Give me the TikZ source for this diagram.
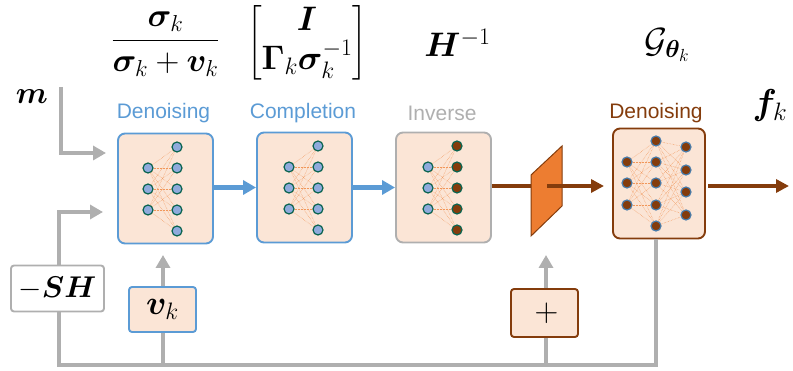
\documentclass[tikz,border=0pt]{standalone}
\usepackage{fix-cm}
\usepackage{amsmath,bm}
\usepackage{fontspec}
\setsansfont{Liberation Sans}
\usetikzlibrary{arrows.meta}
\definecolor{myblue}{RGB}{91,155,213}
\definecolor{mygray}{RGB}{175,175,175}
\definecolor{mybrown}{RGB}{132,60,12}
\definecolor{myfill}{RGB}{251,229,214}
\definecolor{myorange}{RGB}{237,125,49}
\definecolor{mygreen}{RGB}{10,100,80}
\definecolor{mynode}{RGB}{143,170,220}
\tikzset{
  block/.style={rectangle, rounded corners=7pt, minimum width=95pt, minimum height=110pt, line width=1.9pt, fill=myfill, inner sep=0pt},
  smallblock/.style={rectangle, rounded corners=3pt, line width=1.9pt, inner sep=0pt},
  title/.style={font=\sffamily\fontsize{21}{21}\selectfont, inner sep=0pt},
  formula/.style={inner sep=0pt, font=\fontsize{33}{37}\selectfont},
  neuron/.style={circle, minimum size=10pt, inner sep=0pt, line width=1.2pt, draw=mygreen, fill=mynode},
  outneuron/.style={neuron, fill=mybrown},
  deepneuron/.style={circle, minimum size=10pt, inner sep=0pt, line width=1.2pt, draw=myblue!80!black, fill=mybrown},
  synapse/.style={densely dotted, line width=.5pt, myorange!80},
  grayline/.style={line width=4.8pt, mygray},
  grayarrow/.style={grayline, -{Triangle[length=13pt,width=14pt]}},
  bluearrow/.style={line width=4.6pt, myblue, -{Triangle[length=13pt,width=14pt]}},
  brownarrow/.style={line width=4.6pt, mybrown, -{Triangle[length=13pt,width=13pt]}}
}
% two column net: name, x of both columns, y of the middle, style of the right column
\newcommand{\smallnet}[5]{%
  \foreach \i/\yy in {1/-21,2/0,3/21}
    \node (#1a\i) [neuron] at (#2,#4+\yy) {};
  \foreach \j/\yy in {1/-42,2/-21,3/0,4/21,5/42}
    \node (#1b\j) [#5] at (#3,#4+\yy) {};
  \foreach \i in {1,2,3}
    \foreach \j in {1,2,3,4,5}
      \draw [synapse] (#1a\i) -- (#1b\j);
}
\begin{document}
\begin{tikzpicture}[x=1pt, y=-1pt]
\useasboundingbox (0,0) rectangle (793,371);

%% BLOCKS

\node (d1) [block, draw=myblue] at (165.5,188.5) {};
\node (c1) [block, draw=myblue] at (304.5,187.5) {};
\node (i1) [block, draw=mygray] at (443.5,187.5) {};
\node (d2) [block, draw=mybrown, minimum width=92pt] at (659,183.5) {};

%% TITLES

\node (t1) [title, myblue] at (163.5,113) {Denoising};
\node (t2) [title, myblue] at (303,113) {Completion};
\node (t3) [title, mygray] at (442,113) {Inverse};
\node (t4) [title, mybrown] at (656,113) {Denoising};

%% FORMULAS

\node (f1) [formula] at (165.5,44) {$\dfrac{\bm{\sigma}_k}{\bm{\sigma}_k+\bm{v}_k}$};
\node (f2) [formula, font=\fontsize{34}{34}\selectfont] at (307,43) {$\begin{bmatrix}\bm{I}\\ \bm{\Gamma}_k\bm{\sigma}_k^{-1}\end{bmatrix}$};
\node (f3) [formula, font=\fontsize{34}{34}\selectfont] at (457.5,43) {$\bm{H}^{-1}$};
\node (f4) [formula, font=\fontsize{35}{35}\selectfont] at (667,45) {$\mathcal{G}_{\bm{\theta}_k}$};
\node (m) [formula, font=\fontsize{31}{31}\selectfont] at (32,97) {$\bm{m}$};
\node (fk) [formula, font=\fontsize{36}{36}\selectfont] at (770,106) {$\bm{f}_k$};

%% NETS

\smallnet{n1}{148}{177}{189}{neuron}
\smallnet{n2}{289}{318}{188}{neuron}
\smallnet{n3}{428}{457}{188}{outneuron}

\foreach \i/\yy in {1/162,2/183,3/205}
  \node (na\i) [deepneuron] at (627,\yy) {};
\foreach \j/\yy in {1/141,2/162,3/183,4/205,5/226}
  \node (nb\j) [deepneuron] at (656,\yy) {};
\foreach \k/\yy in {1/147,2/170,3/192,4/215}
  \node (nc\k) [deepneuron] at (686,\yy) {};
\foreach \i in {1,2,3}
  \foreach \j in {1,2,3,4,5}
    \draw [synapse] (na\i) -- (nb\j);
\foreach \j in {1,2,3,4,5}
  \foreach \k in {1,2,3,4}
    \draw [synapse] (nb\j) -- (nc\k);

%% ARROWS

\coordinate (mend) at (61,87);
\coordinate (mtip) at (106,153);
\coordinate (shtip) at (103,212);
\coordinate (low1) at (59,365);
\coordinate (low2) at (656,365);
\coordinate (vkx) at (163,255);
\coordinate (ptip) at (546,255);
\coordinate (midin) at (547,186);
\coordinate (d2in) at (604,186);
\coordinate (fkstart) at (708,186);
\coordinate (fktip) at (789,186);

\draw [grayarrow] (mend) |- (mtip);
\draw [grayarrow] (low1 |- 0,270) |- (shtip);
\draw [grayline] (low1 |- 0,305) -- (low1) -- (low2) -- (d2.south -| low2);
\draw [grayarrow] (low1 -| vkx) -- (vkx);
\draw [grayarrow] (low1 -| ptip) -- (ptip);

\draw [bluearrow] (d1.east |- c1.east) -- (c1.west);
\draw [bluearrow] (c1.east) -- (i1.west);

\draw [line width=4.6pt, mybrown] (i1.east |- midin) -- (midin);
\draw [fill=myorange, draw=mybrown, line width=1pt] (531,175) -- (562,146) -- (562,206) -- (531,236) -- cycle;
\draw [brownarrow] (midin) -- (d2in);
\draw [brownarrow] (fkstart) -- (fktip);

%% SMALL BOXES

\node (sh) [smallblock, draw=mygray, fill=white, minimum width=93pt, minimum height=46pt] at (57.5,288.5) {\fontsize{30}{30}\selectfont$-\bm{SH}$};
\node (vk) [smallblock, draw=myblue, fill=myfill, minimum width=67pt, minimum height=45pt] at (162.5,309.5) {\fontsize{34}{34}\selectfont$\bm{v}_k$};
\node (plus) [smallblock, draw=mybrown, fill=myfill, minimum width=67pt, minimum height=48pt] at (544.5,313) {\fontsize{33}{33}\selectfont\hspace*{4pt}$+$};

\end{tikzpicture}
\end{document}
